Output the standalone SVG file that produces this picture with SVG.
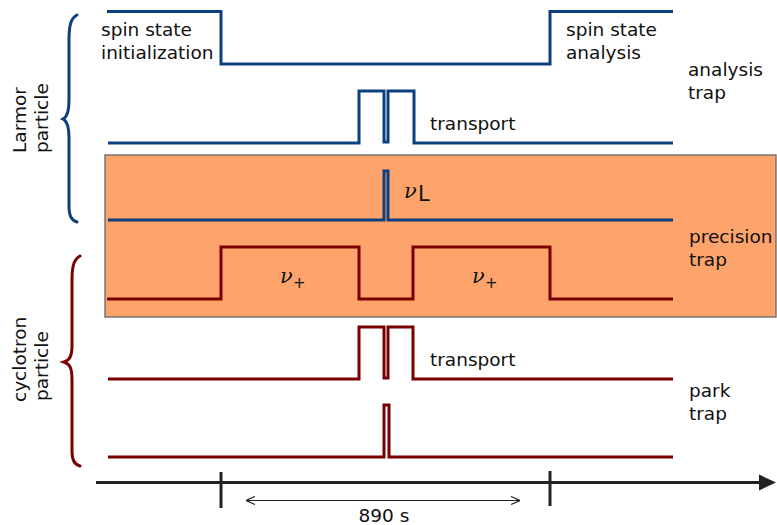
<svg xmlns="http://www.w3.org/2000/svg" width="777" height="525" viewBox="0 0 777 525">
<style>
text{font-family:"DejaVu Sans","Verdana",sans-serif;font-size:18.5px;fill:#111}
.b{fill:none;stroke:#0b3f80;stroke-width:3;stroke-linejoin:miter}
.r{fill:none;stroke:#7a0000;stroke-width:3;stroke-linejoin:miter}
.br{fill:none;stroke-width:3;stroke-linecap:round}
.nu{font-family:"DejaVu Serif","Liberation Serif",serif;font-style:italic;font-size:21px}
.pl{font-size:15px}
.ax{stroke:#222;stroke-width:3;fill:none}
</style>
<defs>
<marker id="arr" viewBox="0 0 10 10" refX="10" refY="5" markerWidth="10" markerHeight="10" markerUnits="userSpaceOnUse" orient="auto-start-reverse">
<path d="M1,1 L10,5 L1,9" fill="none" stroke="#222" stroke-width="1.2"/>
</marker>
</defs>
<g id="precision-box">
<rect x="105" y="155" width="671" height="162" fill="#fca46b" stroke="#666" stroke-width="1.3"/>
</g>
<g id="connectors">
<path id="l-spin" class="b" d="M107,11.5 H221 V64 H550 V11.5 H673"/>
<path id="l-btransport" class="b" d="M108,143 H359 V91 H384 V142 H388 V91 H414 V143 H673"/>
<path id="l-nuL" class="b" d="M108,220 H384 V171 H388 V220 H673"/>
<path id="l-nuplus" class="r" d="M107,299 H221 V247 H359 V299 H413 V247 H550 V299 H673"/>
<path id="l-rtransport" class="r" d="M108,379 H359 V327 H384 V378 H388 V327 H413 V379 H673"/>
<path id="l-park" class="r" d="M108,457 H384 V405 H389 V457 H673"/>
<path class="br" stroke="#0b3f80" d="M77,15 C71,18 69,25 69,40 L69,100 C69,112 67,117 63,119 C67,121 69,126 69,138 L69,205 C69,216 71,220 77,222"/>
<path class="br" stroke="#7a0000" d="M80,256 C74,259 72,266 72,280 L72,345 C72,356 70,360 64,362 C70,364 72,368 72,380 L72,450 C72,460 74,464 80,466"/>
</g>
<g id="axis">
<line class="ax" x1="96" y1="482.5" x2="762" y2="482.5"/>
<path d="M776,482.5 L759,474.5 L759,490.5 Z" fill="#222"/>
<line class="ax" x1="221" y1="472" x2="221" y2="508"/>
<line class="ax" x1="550" y1="471" x2="550" y2="506"/>
<line x1="246" y1="500.5" x2="520" y2="500.5" stroke="#222" stroke-width="1.2" marker-start="url(#arr)" marker-end="url(#arr)"/>
<text x="384" y="522" text-anchor="middle">890 s</text>
</g>
<g id="labels">
<text x="101" y="36">spin state</text>
<text x="101" y="59">initialization</text>
<text x="566" y="36">spin state</text>
<text x="566" y="59">analysis</text>
<text x="688" y="76">analysis</text>
<text x="688" y="99">trap</text>
<text x="430" y="130">transport</text>
<text x="430" y="366">transport</text>
<text x="689" y="243">precision</text>
<text x="689" y="266">trap</text>
<text x="689" y="397">park</text>
<text x="689" y="420">trap</text>
<text class="nu" x="404" y="198">ν</text>
<text x="418" y="201" style="font-size:21px">L</text>
<text class="nu" x="280" y="283">ν</text>
<text class="pl" x="293" y="288">+</text>
<text class="nu" x="472" y="283">ν</text>
<text class="pl" x="485" y="288">+</text>
<text transform="translate(26,153) rotate(-90)">Larmor</text>
<text transform="translate(48,153) rotate(-90)">particle</text>
<text transform="translate(26,402) rotate(-90)">cyclotron</text>
<text transform="translate(48,401) rotate(-90)">particle</text>
</g>
</svg>
